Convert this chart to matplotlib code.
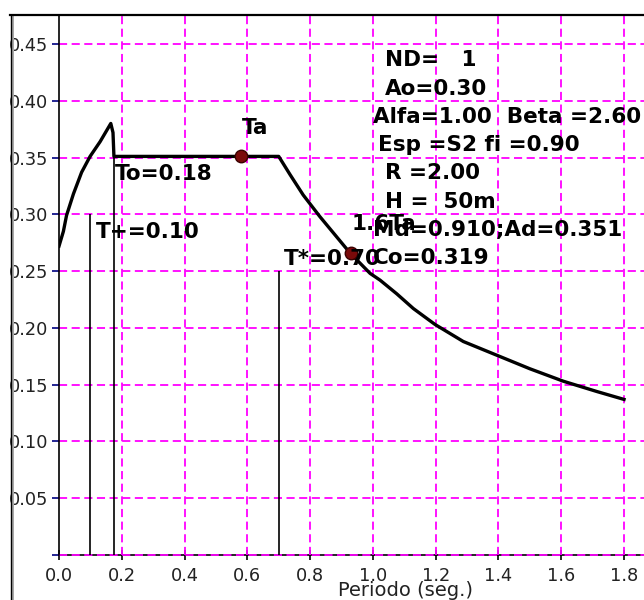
import numpy as np
import matplotlib
matplotlib.use("Agg")
import matplotlib.pyplot as plt
from matplotlib.lines import Line2D
from matplotlib.patches import Rectangle

# Spectrum curve (period in s, spectral value)
periodo = [0.000, 0.014, 0.024, 0.046, 0.072, 0.099, 0.131, 0.165, 0.172, 0.175,
           0.700, 0.736, 0.778, 0.831, 0.885, 0.927, 0.991, 1.023, 1.076,
           1.129, 1.198, 1.288, 1.394, 1.500, 1.607, 1.713, 1.800]
espectro = [0.272, 0.285, 0.299, 0.318, 0.337, 0.351, 0.364, 0.380, 0.372, 0.351,
            0.351, 0.335, 0.317, 0.298, 0.280, 0.266, 0.248, 0.242, 0.230,
            0.217, 0.203, 0.188, 0.176, 0.164, 0.153, 0.144, 0.137]

# Vertical reference lines: T+, To, T*
vlin_t = [0.10, 0.175, 0.70]
vlin_top = [0.30, 0.351, 0.25]

# Marked points: Ta and 1.6Ta
marca_t = [0.58, 0.93]
marca_y = [0.351, 0.266]

xticks = [0.0, 0.2, 0.4, 0.6, 0.8, 1.0, 1.2, 1.4, 1.6, 1.8]
yticks = [0.0, 0.05, 0.10, 0.15, 0.20, 0.25, 0.30, 0.35, 0.40, 0.45]
ytick_lab = ["", "0.05", "0.10", "0.15", "0.20", "0.25", "0.30", "0.35", "0.40", "0.45"]

info = ["ND=   1", "Ao=0.30", "Alfa=1.00  Beta =2.60", "Esp =S2 fi =0.90",
        "R =2.00", "H =  50m", "Md=0.910;Ad=0.351", "Co=0.319"]
info_pos = [(385, 60), (385, 89), (373, 117), (378, 145),
            (385, 173), (385, 202), (373, 230), (373, 258)]

W, H = 644, 600


def fx(p):
    return p / W


def fy(p):
    return 1 - p / H


fig = plt.figure(figsize=(W / 100, H / 100), dpi=100, facecolor="white")
ax = fig.add_axes([fx(59), fy(555), fx(644) - fx(59), fy(16) - fy(555)])
ax.set_xlim(0, 585 / 313.9)
ax.set_ylim(0, 539 / 1135.6)
ax.set_facecolor("white")

for s in ["top", "right"]:
    ax.spines[s].set_visible(False)
ax.spines["left"].set_linewidth(1.2)
ax.spines["bottom"].set_linewidth(1.2)
ax.spines["left"].set_zorder(3)
ax.spines["bottom"].set_zorder(1)

# magenta dashed grid
gdash = (0, (4.5, 2.5))
for xv in xticks[1:]:
    ax.axvline(xv, color="#FF00FF", lw=1.3, ls=gdash, zorder=2)
for yv in yticks:
    ax.axhline(yv, color="#FF00FF", lw=1.3, ls=gdash, zorder=2, clip_on=False)

ax.set_xticks(xticks)
ax.set_xticklabels([f"{v:.1f}" for v in xticks])
ax.set_yticks(yticks)
ax.set_yticklabels(ytick_lab)
ax.tick_params(axis="x", direction="inout", length=7, width=1.2, color="black",
               labelsize=12.8, labelcolor="#222222", pad=5)
ax.tick_params(axis="y", direction="out", length=5, width=1.2, color="#000080",
               labelsize=12.8, labelcolor="#222222", pad=3)

ax.vlines(vlin_t, 0, vlin_top, color="black", lw=1.2, zorder=4)
ax.plot(periodo, espectro, color="black", lw=2.4, zorder=5, solid_joinstyle="round")
ax.plot(marca_t, marca_y, "o", ms=9, mfc="#7a0a0a", mec="#3a0000", mew=1, zorder=6)

tb = dict(fontsize=15.5, fontweight="bold", color="black", ha="left", va="center",
          family="DejaVu Sans", zorder=7)
fig.text(fx(352), fy(224), "1.6Ta", **tb)
for s, (px_, py_) in zip(info, info_pos):
    fig.text(fx(px_), fy(py_), s, **tb)
fig.text(fx(284), fy(259), "T*=0.70", **tb)
fig.text(fx(115), fy(174), "To=0.18", **tb)
fig.text(fx(96), fy(232), "T+=0.10", **tb)
fig.text(fx(242), fy(128), "Ta", **tb)

fig.text(fx(405), fy(591), "Periodo (seg.)", fontsize=14, ha="center", va="center",
         color="#222222")

# window frame
fig.add_artist(Rectangle((0, 0), fx(10), 1, transform=fig.transFigure,
                         facecolor="white", edgecolor="none", zorder=20))
fig.add_artist(Rectangle((0, fy(14)), 1, 1 - fy(14), transform=fig.transFigure,
                         facecolor="white", edgecolor="none", zorder=20))
fig.add_artist(Rectangle((fx(11), 0), fx(3), fy(15), transform=fig.transFigure,
                         facecolor="#a8a8a8", edgecolor="none", zorder=21))
fig.add_artist(Line2D([fx(10.5), fx(10.5)], [0, fy(15)], transform=fig.transFigure,
                      color="black", lw=1, zorder=22))
fig.add_artist(Line2D([fx(10), 1], [fy(15), fy(15)], transform=fig.transFigure,
                      color="black", lw=1.6, zorder=22))

fig.savefig("out.png", dpi=100, facecolor="white")
